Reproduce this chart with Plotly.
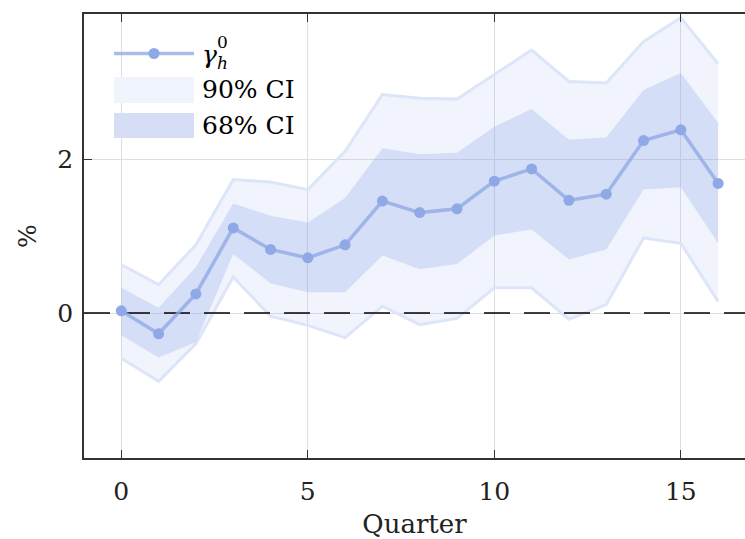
import plotly.graph_objects as go

# Impulse response estimates by quarter, with 68% and 90% confidence bands
quarters = list(range(17))
gamma = [0.03, -0.27, 0.25, 1.11, 0.83, 0.72, 0.89, 1.46, 1.31, 1.36,
         1.72, 1.88, 1.47, 1.55, 2.25, 2.39, 1.69]
ci68_lo = [-0.29, -0.58, -0.38, 0.77, 0.39, 0.27, 0.27, 0.75, 0.57, 0.64,
           1.01, 1.09, 0.70, 0.83, 1.61, 1.64, 0.91]
ci68_hi = [0.33, 0.07, 0.60, 1.43, 1.27, 1.18, 1.50, 2.15, 2.07, 2.09,
           2.43, 2.66, 2.26, 2.29, 2.91, 3.13, 2.48]
ci90_lo = [-0.59, -0.89, -0.40, 0.47, -0.04, -0.16, -0.32, 0.09, -0.15, -0.07,
           0.33, 0.33, -0.08, 0.11, 0.98, 0.91, 0.15]
ci90_hi = [0.63, 0.37, 0.89, 1.74, 1.71, 1.61, 2.11, 2.85, 2.80, 2.79,
           3.11, 3.43, 3.02, 3.00, 3.54, 3.85, 3.25]

x_ticks = [0, 5, 10, 15]
y_ticks = [0, 2]
x_range = [-1.0, 16.72]
y_range = [-1.89, 3.9]

BLUE = "rgb(143,168,230)"
LINE = "rgba(143,168,230,0.78)"
FILL90 = "rgba(143,168,230,0.13)"
FILL68 = "rgba(143,168,230,0.29)"
EDGE90 = "rgb(221,229,248)"
FONT = "DejaVu Serif"

W, H = 745, 539
ML, MR, MT, MB = 84, 0, 14, 81
PW, PH = W - ML - MR, H - MT - MB


def px(x):
    return (x - ML) / PW


def py(y):
    return (H - MB - y) / PH


fig = go.Figure()

# 90% band with thin edges
fig.add_trace(go.Scatter(x=quarters, y=ci90_lo, mode="lines",
                         line=dict(color=EDGE90, width=3), showlegend=False,
                         hoverinfo="skip"))
fig.add_trace(go.Scatter(x=quarters, y=ci90_hi, mode="lines", fill="tonexty",
                         fillcolor=FILL90, line=dict(color=EDGE90, width=3),
                         showlegend=False, hoverinfo="skip"))
# 68% band
fig.add_trace(go.Scatter(x=quarters, y=ci68_lo, mode="lines",
                         line=dict(width=0, color=FILL68), showlegend=False,
                         hoverinfo="skip"))
fig.add_trace(go.Scatter(x=quarters, y=ci68_hi, mode="lines", fill="tonexty",
                         fillcolor=FILL68, line=dict(width=0, color=FILL68),
                         showlegend=False, hoverinfo="skip"))
# zero reference line
fig.add_trace(go.Scatter(x=x_range, y=[0, 0], mode="lines",
                         line=dict(color="black", width=1.6, dash="26px,14px"),
                         showlegend=False, hoverinfo="skip"))
# point estimates
fig.add_trace(go.Scatter(x=quarters, y=gamma, mode="lines+markers",
                         line=dict(color=LINE, width=3.5),
                         marker=dict(color=BLUE, size=11),
                         showlegend=False))

# hand-drawn legend
shapes = [
    dict(type="line", xref="paper", yref="paper", x0=px(114), x1=px(194),
         y0=py(53.5), y1=py(53.5), line=dict(color=LINE, width=3.5)),
    dict(type="circle", xref="paper", yref="paper", x0=px(148.5), x1=px(159.5),
         y0=py(48), y1=py(59), fillcolor=BLUE, line=dict(width=0)),
    dict(type="rect", xref="paper", yref="paper", x0=px(114), x1=px(194),
         y0=py(77), y1=py(103), fillcolor="rgb(240,244,252)", line=dict(width=0)),
    dict(type="rect", xref="paper", yref="paper", x0=px(114), x1=px(194),
         y0=py(113), y1=py(138), fillcolor="rgb(213,222,245)", line=dict(width=0)),
]

ann_font = dict(family=FONT, size=25, color="black")
small_font = dict(family=FONT, size=17, color="black")
annotations = [
    dict(text="<i>γ</i>", x=px(200), y=py(55), xref="paper", yref="paper",
         xanchor="left", yanchor="middle", showarrow=False, font=ann_font),
    dict(text="0", x=px(215), y=py(42), xref="paper", yref="paper",
         xanchor="left", yanchor="middle", showarrow=False, font=small_font),
    dict(text="<i>h</i>", x=px(215), y=py(63), xref="paper", yref="paper",
         xanchor="left", yanchor="middle", showarrow=False, font=small_font),
    dict(text="90% CI", x=px(200), y=py(89), xref="paper", yref="paper",
         xanchor="left", yanchor="middle", showarrow=False, font=ann_font),
    dict(text="68% CI", x=px(200), y=py(125), xref="paper", yref="paper",
         xanchor="left", yanchor="middle", showarrow=False, font=ann_font),
]

axis_common = dict(
    showline=True, linecolor="#333333", linewidth=1.5,
    ticks="inside", ticklen=8, tickwidth=1.3, tickcolor="#333333",
    showgrid=True, gridcolor="rgb(222,222,222)", gridwidth=1,
    zeroline=False, tickfont=dict(family=FONT, size=25, color="#222222"),
)

fig.update_layout(
    template="none",
    width=W, height=H,
    margin=dict(l=ML, r=MR, t=MT, b=MB),
    paper_bgcolor="white", plot_bgcolor="white",
    font=dict(family=FONT, color="#222222"),
    shapes=shapes, annotations=annotations,
    xaxis=dict(axis_common, range=x_range, tickvals=x_ticks, mirror="ticks",
               ticklabelstandoff=10,
               title=dict(text="Quarter",
                          font=dict(family=FONT, size=26, color="#222222"),
                          standoff=11)),
    yaxis=dict(axis_common, range=y_range, tickvals=y_ticks,
               ticklabelstandoff=4,
               title=dict(text="%",
                          font=dict(family=FONT, size=25, color="#222222"),
                          standoff=14)),
)

fig.write_html("out.html")
